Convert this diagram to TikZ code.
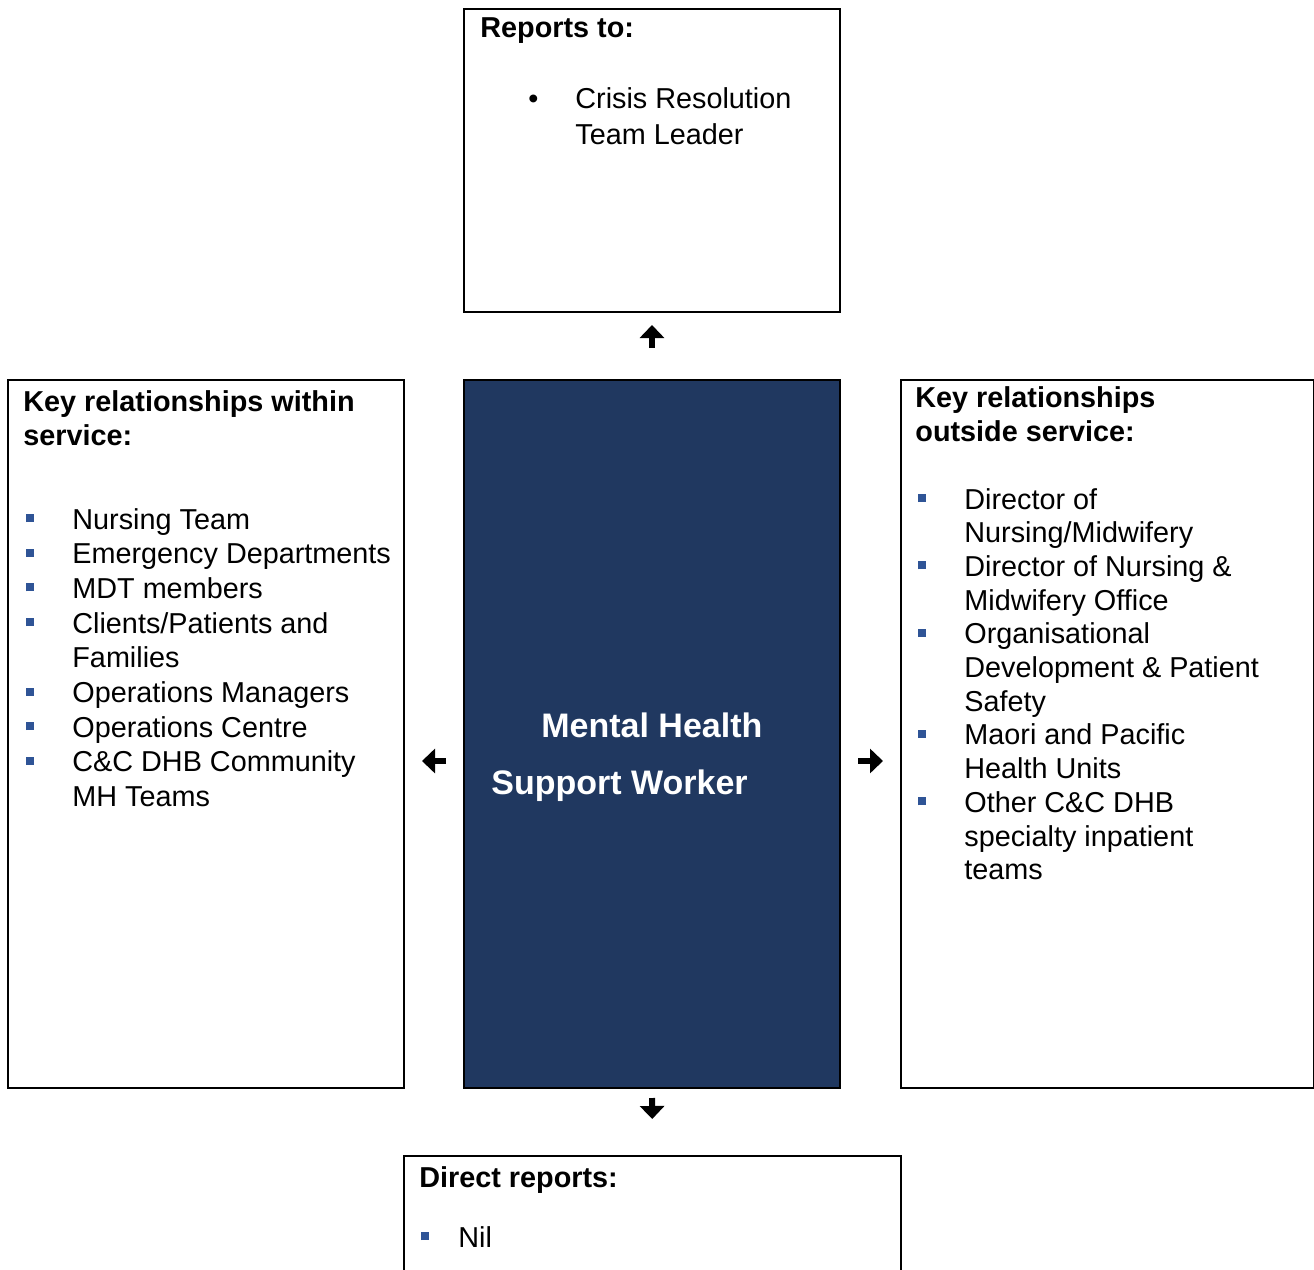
\documentclass[tikz,border=0pt]{standalone}
\usepackage{fontspec}
\setmainfont{Liberation Sans}
\usepackage{xcolor}
\usetikzlibrary{positioning,arrows.meta}
\definecolor{hubblue}{RGB}{32,56,96}
\definecolor{bulletblue}{RGB}{47,84,150}
\newcommand{\sqbullet}{\textcolor{bulletblue}{\rule[3.5pt]{4pt}{4pt}}}
\newcommand{\bodyfont}[1]{\fontsize{14.4}{#1}\selectfont}
\tikzset{
  box/.style={draw=black,line width=1pt,inner sep=0pt,anchor=north west},
  head/.style={anchor=base west,inner sep=0pt,font=\bodyfont{17pt}\bfseries},
  list/.style={anchor=base west,inner sep=0pt,font=\bodyfont{#1}},
  list/.default={17.35pt},
  flow/.style={line width=3pt,-{Triangle[length=6.5pt,width=12pt]}}
}

\begin{document}
\begin{tikzpicture}[x=0.5pt,y=-0.5pt]
\useasboundingbox (0,0) rectangle (1314,1270);
\clip (0,0) rectangle (1314,1270);

% the five boxes
\node[box,minimum width=188pt,minimum height=151.5pt] (reports) at (463,8) {};
\node[box,minimum width=198pt,minimum height=354pt] (within) at (7,379) {};
\node[box,minimum width=188pt,minimum height=354pt,fill=hubblue] (hub) at (463,379) {};
\node[box,minimum width=206.5pt,minimum height=354pt] (outside) at (900,379) {};
\node[box,minimum width=248.5pt,minimum height=70pt] (direct) at (403,1155) {};

% reports to
\node[head] (reportshead) at (480,37) {Reports to:};
\node[list=18pt] (reportslist) at (528,108)
  {\begin{tabular}[t]{@{}p{23.5pt}@{}l@{}}
     \textbullet & Crisis Resolution\\
                 & Team Leader
   \end{tabular}};

% within service
\node[head] (withinhead) at (23,411)
  {\begin{tabular}[t]{@{}l@{}}Key relationships within\\service:\end{tabular}};
\node[list] (withinlist) at (26,529)
  {\begin{tabular}[t]{@{}p{23pt}@{}l@{}}
     \sqbullet & Nursing Team\\
     \sqbullet & Emergency Departments\\
     \sqbullet & MDT members\\
     \sqbullet & Clients/Patients and\\
               & Families\\
     \sqbullet & Operations Managers\\
     \sqbullet & Operations Centre\\
     \sqbullet & C\&C DHB Community\\
               & MH Teams
   \end{tabular}};

% outside service
\node[head] (outsidehead) at (915,407)
  {\begin{tabular}[t]{@{}l@{}}Key relationships\\outside service:\end{tabular}};
\node[list=16.85pt] (outsidelist) at (918,509)
  {\begin{tabular}[t]{@{}p{23pt}@{}l@{}}
     \sqbullet & Director of\\
               & Nursing/Midwifery\\
     \sqbullet & Director of Nursing \&\\
               & Midwifery Office\\
     \sqbullet & Organisational\\
               & Development \& Patient\\
               & Safety\\
     \sqbullet & Maori and Pacific\\
               & Health Units\\
     \sqbullet & Other C\&C DHB\\
               & specialty inpatient\\
               & teams
   \end{tabular}};

% the role itself
\node[anchor=base west,inner sep=0pt,text=white,
      font=\fontsize{17}{28.5pt}\selectfont\bfseries] (hubtitle) at (491,737)
  {\begin{tabular}[t]{@{}l@{}}
     \hspace*{25pt}Mental Health\\
     Support Worker
   \end{tabular}};

% direct reports
\node[head] (directhead) at (419,1187) {Direct reports:};
\node[list] (directlist) at (421,1247)
  {\begin{tabular}[t]{@{}p{18.5pt}@{}l@{}}\sqbullet & Nil\end{tabular}};

% arrows out of the centre box
\draw[flow,shorten <=15.5pt,shorten >=6pt] (hub.north) -- (reports.south);
\draw[flow,shorten <=8.5pt,shorten >=8.5pt]
  ([yshift=-13.5pt]hub.west) -- ([yshift=-13.5pt]within.east);
\draw[flow,shorten <=8.5pt,shorten >=8.5pt]
  ([yshift=-13.5pt]hub.east) -- ([yshift=-13.5pt]outside.west);
\draw[flow,shorten <=4.5pt,shorten >=18pt] (hub.south) -- (direct.north);
\end{tikzpicture}
\end{document}
